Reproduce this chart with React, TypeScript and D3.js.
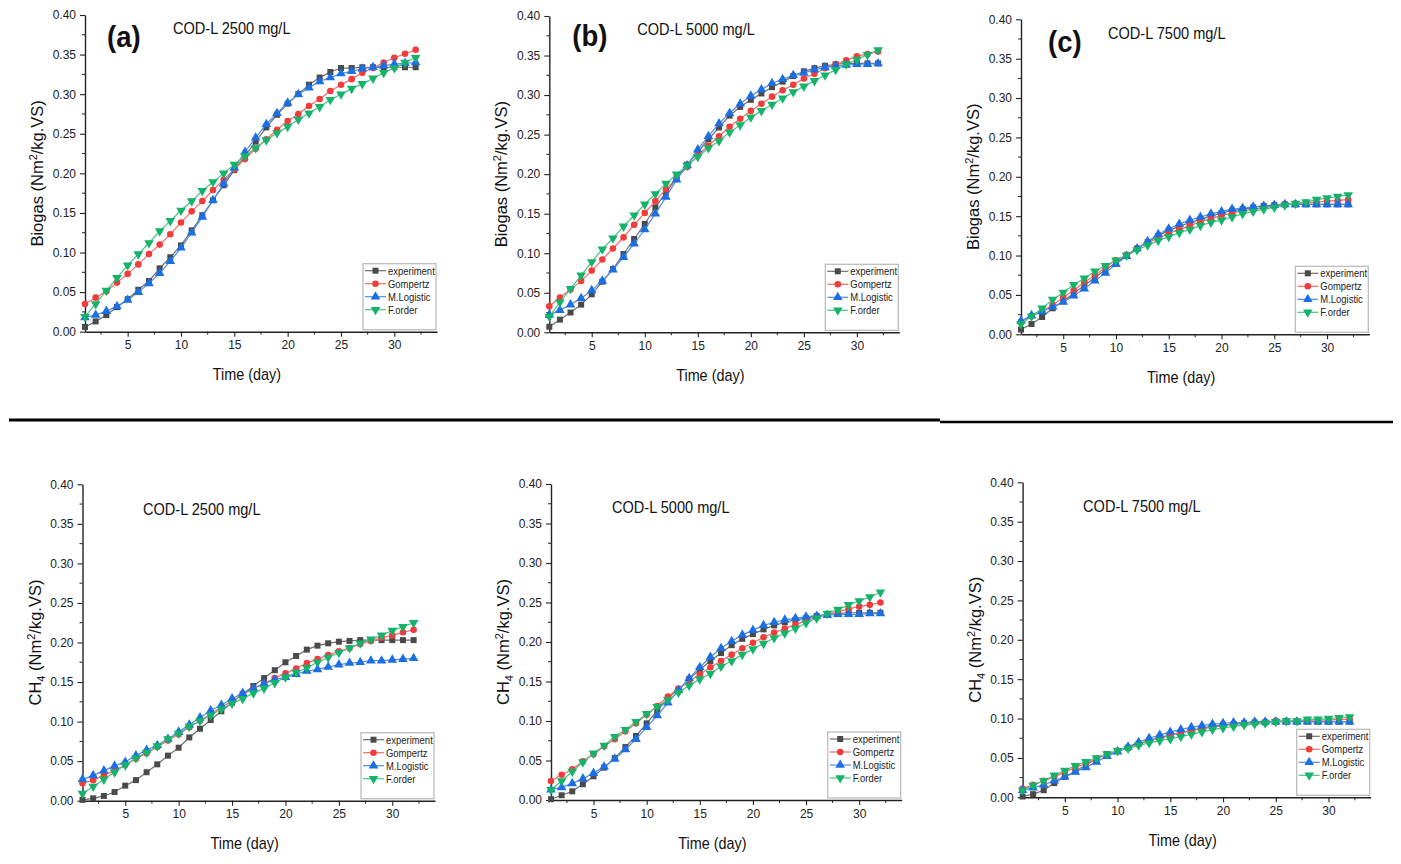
import React, { useRef, useEffect } from "react";
import * as d3 from "d3";

const DAYS = [1, 2, 3, 4, 5, 6, 7, 8, 9, 10, 11, 12, 13, 14, 15, 16, 17, 18, 19, 20, 21, 22, 23, 24, 25, 26, 27, 28, 29, 30, 31, 32];
const SERIES = ["experiment", "Gompertz", "M.Logistic", "F.order"];
const Y_TICKS = [0, 0.05, 0.1, 0.15, 0.2, 0.25, 0.3, 0.35, 0.4];
const X_TICKS = [5, 10, 15, 20, 25, 30];

// biogas yield, COD-L 2500 mg/L
const bioA_exp = [0.006, 0.013, 0.021, 0.031, 0.041, 0.053, 0.064, 0.080, 0.094, 0.109, 0.128, 0.147, 0.166, 0.185, 0.204, 0.222, 0.240, 0.258, 0.274, 0.288, 0.300, 0.312, 0.321, 0.328, 0.333, 0.333, 0.334, 0.334, 0.334, 0.334, 0.334, 0.334];
const bioA_gom = [0.035, 0.043, 0.051, 0.062, 0.073, 0.085, 0.098, 0.110, 0.123, 0.138, 0.152, 0.165, 0.179, 0.192, 0.205, 0.218, 0.231, 0.243, 0.255, 0.266, 0.275, 0.285, 0.294, 0.304, 0.312, 0.319, 0.327, 0.333, 0.340, 0.346, 0.351, 0.356];
const bioA_log = [0.018, 0.021, 0.026, 0.032, 0.040, 0.050, 0.061, 0.074, 0.089, 0.106, 0.125, 0.145, 0.166, 0.187, 0.207, 0.227, 0.245, 0.262, 0.276, 0.289, 0.300, 0.308, 0.316, 0.321, 0.326, 0.329, 0.332, 0.334, 0.336, 0.338, 0.339, 0.340];
const bioA_fo = [0.019, 0.035, 0.052, 0.068, 0.084, 0.098, 0.112, 0.127, 0.140, 0.153, 0.165, 0.178, 0.189, 0.200, 0.211, 0.222, 0.232, 0.242, 0.251, 0.259, 0.268, 0.276, 0.284, 0.293, 0.300, 0.307, 0.313, 0.320, 0.327, 0.333, 0.340, 0.346];

// biogas yield, COD-L 5000 mg/L
const bioB_exp = [0.007, 0.016, 0.025, 0.035, 0.048, 0.064, 0.080, 0.099, 0.118, 0.137, 0.158, 0.177, 0.195, 0.212, 0.228, 0.244, 0.259, 0.274, 0.285, 0.294, 0.302, 0.310, 0.317, 0.324, 0.330, 0.334, 0.337, 0.339, 0.340, 0.340, 0.340, 0.340];
const bioB_gom = [0.033, 0.044, 0.054, 0.065, 0.078, 0.092, 0.106, 0.120, 0.136, 0.151, 0.166, 0.181, 0.195, 0.209, 0.224, 0.236, 0.248, 0.260, 0.270, 0.280, 0.289, 0.298, 0.306, 0.313, 0.321, 0.327, 0.334, 0.339, 0.344, 0.349, 0.352, 0.355];
const bioB_log = [0.022, 0.028, 0.035, 0.043, 0.053, 0.065, 0.079, 0.095, 0.112, 0.130, 0.150, 0.171, 0.193, 0.211, 0.231, 0.248, 0.264, 0.277, 0.289, 0.299, 0.307, 0.315, 0.320, 0.325, 0.328, 0.332, 0.335, 0.337, 0.338, 0.339, 0.339, 0.340];
const bioB_fo = [0.020, 0.038, 0.055, 0.072, 0.089, 0.105, 0.119, 0.134, 0.148, 0.162, 0.175, 0.188, 0.200, 0.211, 0.222, 0.233, 0.242, 0.253, 0.262, 0.272, 0.280, 0.288, 0.296, 0.304, 0.311, 0.318, 0.325, 0.332, 0.339, 0.345, 0.351, 0.357];

// biogas yield, COD-L 7500 mg/L
const bioC_exp = [0.006, 0.013, 0.022, 0.033, 0.042, 0.052, 0.062, 0.072, 0.082, 0.091, 0.100, 0.109, 0.117, 0.125, 0.132, 0.137, 0.142, 0.146, 0.150, 0.154, 0.157, 0.159, 0.161, 0.163, 0.164, 0.165, 0.165, 0.165, 0.165, 0.165, 0.165, 0.165];
const bioC_gom = [0.016, 0.023, 0.030, 0.037, 0.047, 0.056, 0.066, 0.075, 0.085, 0.094, 0.101, 0.109, 0.116, 0.122, 0.128, 0.133, 0.138, 0.143, 0.147, 0.151, 0.154, 0.157, 0.159, 0.161, 0.163, 0.165, 0.166, 0.167, 0.168, 0.169, 0.170, 0.171];
const bioC_log = [0.017, 0.024, 0.029, 0.035, 0.041, 0.049, 0.058, 0.068, 0.078, 0.089, 0.099, 0.109, 0.118, 0.127, 0.134, 0.140, 0.145, 0.149, 0.153, 0.156, 0.159, 0.160, 0.162, 0.163, 0.164, 0.165, 0.165, 0.165, 0.165, 0.165, 0.165, 0.165];
const bioC_fo = [0.013, 0.023, 0.033, 0.044, 0.053, 0.063, 0.071, 0.080, 0.087, 0.094, 0.100, 0.107, 0.113, 0.119, 0.124, 0.129, 0.133, 0.138, 0.142, 0.145, 0.149, 0.153, 0.156, 0.159, 0.161, 0.164, 0.166, 0.168, 0.171, 0.173, 0.175, 0.177];

// methane yield, COD-L 2500 mg/L
const ch4A_exp = [0.001, 0.003, 0.006, 0.011, 0.019, 0.026, 0.036, 0.046, 0.057, 0.067, 0.080, 0.091, 0.102, 0.113, 0.124, 0.135, 0.145, 0.155, 0.165, 0.175, 0.183, 0.191, 0.196, 0.199, 0.201, 0.202, 0.203, 0.203, 0.203, 0.203, 0.203, 0.203];
const ch4A_gom = [0.022, 0.026, 0.032, 0.038, 0.045, 0.053, 0.060, 0.068, 0.076, 0.084, 0.093, 0.101, 0.110, 0.118, 0.126, 0.134, 0.142, 0.148, 0.155, 0.161, 0.167, 0.174, 0.179, 0.184, 0.189, 0.193, 0.198, 0.202, 0.206, 0.209, 0.213, 0.216];
const ch4A_log = [0.027, 0.032, 0.038, 0.044, 0.049, 0.057, 0.064, 0.070, 0.078, 0.087, 0.096, 0.105, 0.114, 0.121, 0.129, 0.136, 0.142, 0.148, 0.153, 0.156, 0.160, 0.164, 0.166, 0.169, 0.172, 0.174, 0.175, 0.177, 0.177, 0.178, 0.179, 0.180];
const ch4A_fo = [0.009, 0.018, 0.027, 0.036, 0.045, 0.054, 0.061, 0.069, 0.078, 0.085, 0.094, 0.101, 0.108, 0.116, 0.123, 0.129, 0.136, 0.142, 0.149, 0.156, 0.162, 0.168, 0.175, 0.181, 0.187, 0.193, 0.199, 0.204, 0.209, 0.215, 0.220, 0.225];

// methane yield, COD-L 5000 mg/L
const ch4B_exp = [0.001, 0.006, 0.011, 0.020, 0.030, 0.041, 0.053, 0.067, 0.081, 0.097, 0.113, 0.129, 0.140, 0.153, 0.165, 0.176, 0.186, 0.196, 0.204, 0.210, 0.216, 0.221, 0.225, 0.228, 0.230, 0.233, 0.235, 0.236, 0.237, 0.237, 0.237, 0.237];
const ch4B_gom = [0.024, 0.032, 0.039, 0.049, 0.058, 0.068, 0.077, 0.087, 0.097, 0.108, 0.119, 0.131, 0.141, 0.150, 0.159, 0.168, 0.176, 0.184, 0.192, 0.199, 0.206, 0.212, 0.217, 0.222, 0.227, 0.231, 0.235, 0.238, 0.242, 0.245, 0.247, 0.250];
const ch4B_log = [0.013, 0.016, 0.021, 0.027, 0.034, 0.042, 0.052, 0.064, 0.077, 0.092, 0.107, 0.123, 0.139, 0.154, 0.168, 0.181, 0.192, 0.201, 0.209, 0.215, 0.221, 0.225, 0.228, 0.230, 0.232, 0.233, 0.234, 0.235, 0.235, 0.235, 0.236, 0.236];
const ch4B_fo = [0.013, 0.024, 0.036, 0.048, 0.059, 0.069, 0.080, 0.089, 0.099, 0.109, 0.118, 0.127, 0.136, 0.145, 0.153, 0.160, 0.169, 0.176, 0.184, 0.191, 0.198, 0.205, 0.211, 0.217, 0.224, 0.230, 0.236, 0.241, 0.247, 0.252, 0.257, 0.263];

// methane yield, COD-L 7500 mg/L
const ch4C_exp = [0.001, 0.004, 0.009, 0.018, 0.026, 0.033, 0.041, 0.049, 0.055, 0.059, 0.063, 0.068, 0.072, 0.076, 0.079, 0.082, 0.085, 0.088, 0.090, 0.092, 0.093, 0.094, 0.095, 0.095, 0.096, 0.096, 0.096, 0.096, 0.096, 0.096, 0.096, 0.096];
const ch4C_gom = [0.011, 0.016, 0.021, 0.026, 0.032, 0.038, 0.043, 0.049, 0.054, 0.059, 0.063, 0.068, 0.072, 0.075, 0.079, 0.082, 0.085, 0.087, 0.089, 0.091, 0.093, 0.094, 0.095, 0.096, 0.097, 0.097, 0.097, 0.098, 0.098, 0.098, 0.099, 0.099];
const ch4C_log = [0.009, 0.012, 0.016, 0.021, 0.026, 0.032, 0.038, 0.045, 0.052, 0.058, 0.064, 0.070, 0.075, 0.079, 0.083, 0.086, 0.089, 0.091, 0.093, 0.094, 0.095, 0.095, 0.096, 0.096, 0.096, 0.096, 0.096, 0.096, 0.096, 0.096, 0.096, 0.096];
const ch4C_fo = [0.009, 0.015, 0.021, 0.028, 0.034, 0.040, 0.045, 0.050, 0.055, 0.059, 0.062, 0.066, 0.069, 0.072, 0.074, 0.077, 0.080, 0.083, 0.086, 0.088, 0.090, 0.092, 0.093, 0.094, 0.096, 0.097, 0.097, 0.099, 0.099, 0.100, 0.101, 0.102];

const TITLES = ["COD-L 2500 mg/L", "COD-L 5000 mg/L", "COD-L 7500 mg/L", "COD-L 2500 mg/L", "COD-L 5000 mg/L", "COD-L 7500 mg/L"];
const LETTERS = ["(a)", "(b)", "(c)", "", "", ""];

// colours and marker shapes per model
const COLORS = ["#4a4a4a", "#f23b3b", "#1c6fe3", "#14b369"];
const LINE_COLORS = ["#6e6e6e", "#f76a6a", "#4a8ded", "#45c486"];
const SYMBOLS = [d3.symbolSquare, d3.symbolCircle, d3.symbolTriangle, d3.symbolTriangle];
const SYMBOL_SIZES = [36, 34, 40, 40];
const SYMBOL_ROT = [0, 0, 0, 180];

// axis frames in page pixels: left, top (0.40), right (day 34), bottom (0.00)
const frames = [
  { L: 85, T: 15, R: 437, B: 331.7, title: [88, 13], letter: [22, 22], yLab: "bio" },
  { L: 549.3, T: 16, R: 899.3, B: 332.3, title: [88, 13], letter: [23, 20], yLab: "bio" },
  { L: 1021, T: 19.3, R: 1369.3, B: 334.3, title: [87, 14], letter: [27, 23], yLab: "bio" },
  { L: 82.5, T: 484.3, R: 435, B: 800.7, title: [60.5, 25], letter: [0, 0], yLab: "ch4" },
  { L: 551, T: 484, R: 901.7, B: 800, title: [61, 23], letter: [0, 0], yLab: "ch4" },
  { L: 1022.6, T: 482.3, R: 1370.7, B: 797.3, title: [60.5, 24], letter: [0, 0], yLab: "ch4" },
];

const panelData = [
  [bioA_exp, bioA_gom, bioA_log, bioA_fo],
  [bioB_exp, bioB_gom, bioB_log, bioB_fo],
  [bioC_exp, bioC_gom, bioC_log, bioC_fo],
  [ch4A_exp, ch4A_gom, ch4A_log, ch4A_fo],
  [ch4B_exp, ch4B_gom, ch4B_log, ch4B_fo],
  [ch4C_exp, ch4C_gom, ch4C_log, ch4C_fo],
];

const FONT = "'Liberation Sans', Arial, sans-serif";

function drawPanel(root, f, series, title, letter) {
  const x = d3.scaleLinear().domain([1, 34]).range([f.L, f.R]);
  const y = d3.scaleLinear().domain([0, 0.4]).range([f.B, f.T]);
  const g = root.append("g");

  // minor ticks first so the major axis sits on top
  const yMinor = d3.range(0.025, 0.4, 0.05);
  g.append("g")
    .selectAll("line")
    .data(yMinor)
    .join("line")
    .attr("x1", f.L - 3)
    .attr("x2", f.L)
    .attr("y1", (d) => y(d))
    .attr("y2", (d) => y(d))
    .attr("stroke", "#222")
    .attr("stroke-width", 1);
  const xMinor = [2.5, 7.5, 12.5, 17.5, 22.5, 27.5, 32.5];
  g.append("g")
    .selectAll("line")
    .data(xMinor)
    .join("line")
    .attr("x1", (d) => x(d))
    .attr("x2", (d) => x(d))
    .attr("y1", f.B)
    .attr("y2", f.B + 3)
    .attr("stroke", "#222")
    .attr("stroke-width", 1);

  const yAxis = g
    .append("g")
    .attr("transform", `translate(${f.L},0)`)
    .call(
      d3.axisLeft(y).tickValues(Y_TICKS).tickSize(5).tickSizeOuter(0).tickPadding(4).tickFormat(d3.format(".2f"))
    );
  const xAxis = g
    .append("g")
    .attr("transform", `translate(0,${f.B})`)
    .call(d3.axisBottom(x).tickValues(X_TICKS).tickSize(5).tickSizeOuter(0).tickPadding(4).tickFormat(d3.format("d")));
  [yAxis, xAxis].forEach((a) => {
    a.select(".domain").attr("stroke", "#222").attr("stroke-width", 1.4);
    a.selectAll(".tick line").attr("stroke", "#222").attr("stroke-width", 1.1);
    a.selectAll(".tick text").attr("font-family", FONT).attr("font-size", 12).attr("fill", "#222");
  });

  // model curves with markers
  const line = d3
    .line()
    .x((d) => x(d[0]))
    .y((d) => y(d[1]));
  series.forEach((vals, si) => {
    const pts = DAYS.map((d, i) => [d, vals[i]]);
    g.append("path")
      .attr("d", line(pts))
      .attr("fill", "none")
      .attr("stroke", LINE_COLORS[si])
      .attr("stroke-width", 1.2);
    g.append("g")
      .selectAll("path")
      .data(pts)
      .join("path")
      .attr("d", d3.symbol(SYMBOLS[si], SYMBOL_SIZES[si]))
      .attr("transform", (d) => `translate(${x(d[0])},${y(d[1])}) rotate(${SYMBOL_ROT[si]})`)
      .attr("fill", COLORS[si]);
  });

  // legend box in the lower-right corner
  const lx = f.R - 74;
  const ly = f.B - 68;
  const leg = g.append("g").attr("transform", `translate(${lx},${ly})`);
  leg
    .append("rect")
    .attr("width", 73)
    .attr("height", 66)
    .attr("fill", "white")
    .attr("stroke", "#bdbdbd")
    .attr("stroke-width", 1.3);
  SERIES.forEach((name, si) => {
    const ey = 7 + si * 13;
    leg
      .append("line")
      .attr("x1", 2)
      .attr("x2", 23)
      .attr("y1", ey)
      .attr("y2", ey)
      .attr("stroke", LINE_COLORS[si])
      .attr("stroke-width", 1.2);
    leg
      .append("path")
      .attr("d", d3.symbol(SYMBOLS[si], SYMBOL_SIZES[si]))
      .attr("transform", `translate(12.5,${ey}) rotate(${SYMBOL_ROT[si]})`)
      .attr("fill", COLORS[si]);
    leg
      .append("text")
      .attr("transform", `translate(25,${ey + 4}) scale(0.86,1)`)
      .attr("font-family", FONT)
      .attr("font-size", 11)
      .attr("fill", "#222")
      .text(name);
  });

  // panel title and letter
  g.append("text")
    .attr("transform", `translate(${f.L + f.title[0]},${f.T + f.title[1] + 5.5}) scale(0.91,1)`)
    .attr("font-family", FONT)
    .attr("font-size", 16)
    .attr("fill", "#111")
    .text(title);
  if (letter) {
    g.append("text")
      .attr("transform", `translate(${f.L + f.letter[0]},${f.T + f.letter[1] + 10}) scale(0.95,1)`)
      .attr("font-family", FONT)
      .attr("font-weight", "bold")
      .attr("font-size", 29)
      .attr("fill", "#111")
      .text(letter);
  }

  // axis titles
  g.append("text")
    .attr("transform", `translate(${f.L + 0.46 * (f.R - f.L)},${f.B + 48.5}) scale(0.9,1)`)
    .attr("text-anchor", "middle")
    .attr("font-family", FONT)
    .attr("font-size", 16)
    .attr("fill", "#111")
    .text("Time (day)");

  const yl = g
    .append("text")
    .attr("transform", `translate(${f.L - 42},${(f.T + f.B) / 2}) rotate(-90)`)
    .attr("text-anchor", "middle")
    .attr("font-family", FONT)
    .attr("font-size", 16.5)
    .attr("fill", "#111");
  if (f.yLab === "bio") {
    yl.append("tspan").text("Biogas (Nm");
  } else {
    yl.append("tspan").text("CH");
    yl.append("tspan").attr("font-size", 11).attr("dy", 4).text("4");
    yl.append("tspan").attr("dy", -4).text(" (Nm");
  }
  yl.append("tspan").attr("font-size", 11).attr("dy", -6).text("2");
  yl.append("tspan").attr("dy", 6).text("/kg.VS)");
}

export default function App() {
  const ref = useRef(null);

  useEffect(() => {
    const svg = d3.select(ref.current);
    svg.selectAll("*").remove();

    // horizontal rules between the biogas row and the methane row
    svg.append("line").attr("x1", 9).attr("x2", 940).attr("y1", 420).attr("y2", 420).attr("stroke", "#000").attr("stroke-width", 3);
    svg.append("line").attr("x1", 940).attr("x2", 1393).attr("y1", 422).attr("y2", 422).attr("stroke", "#000").attr("stroke-width", 2.6);

    frames.forEach((f, i) => drawPanel(svg, f, panelData[i], TITLES[i], LETTERS[i]));
    return () => svg.selectAll("*").remove();
  }, []);

  return (
    <svg
      ref={ref}
      width={1401}
      height={864}
      style={{ position: "absolute", left: 0, top: 0, background: "white" }}
    />
  );
}
